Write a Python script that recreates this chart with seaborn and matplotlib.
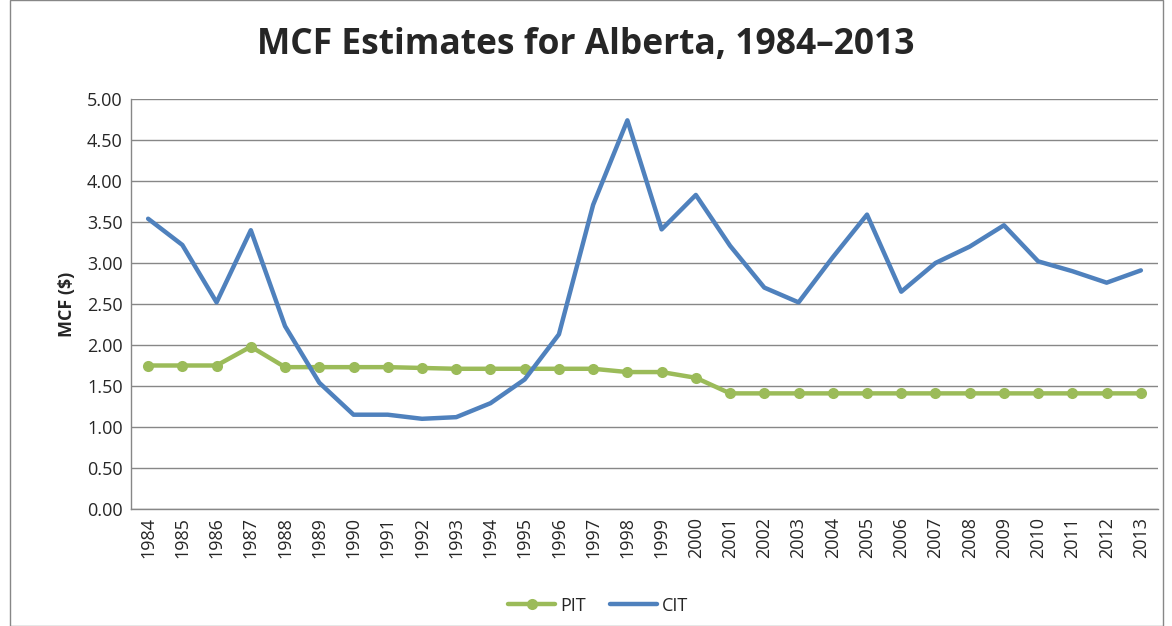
import pandas as pd
import seaborn as sns
import matplotlib.pyplot as plt
from matplotlib.patches import Rectangle

years = list(range(1984, 2014))
pit = [1.75, 1.75, 1.75, 1.98, 1.73, 1.73, 1.73, 1.73, 1.72, 1.71,
       1.71, 1.71, 1.71, 1.71, 1.67, 1.67, 1.60, 1.41, 1.41, 1.41,
       1.41, 1.41, 1.41, 1.41, 1.41, 1.41, 1.41, 1.41, 1.41, 1.41]
cit = [3.54, 3.22, 2.52, 3.40, 2.23, 1.54, 1.15, 1.15, 1.10, 1.12,
       1.29, 1.58, 2.13, 3.71, 4.74, 3.41, 3.83, 3.21, 2.70, 2.52,
       3.07, 3.59, 2.65, 3.00, 3.20, 3.46, 3.02, 2.90, 2.76, 2.91]

df = pd.DataFrame({"year": years, "PIT": pit, "CIT": cit})

sns.set_style("white")
plt.rcParams["font.family"] = ["Open Sans", "DejaVu Sans"]

fig = plt.figure(figsize=(11.72, 6.26), dpi=100)
ax = fig.add_axes([131 / 1172, 1 - 509 / 626, (1158 - 131) / 1172, (509 - 99) / 626])

sns.lineplot(data=df, x="year", y="PIT", ax=ax, color="#9BBB59", lw=3.2,
             marker="o", markersize=8, markeredgewidth=0, label="PIT")
sns.lineplot(data=df, x="year", y="CIT", ax=ax, color="#4F81BD", lw=3.2,
             label="CIT")

ax.set_xlim(years[0] - 0.5, years[-1] + 0.5)
ax.set_ylim(0, 5)
ax.set_yticks([i * 0.5 for i in range(11)])
ax.set_yticklabels([f"{i * 0.5:.2f}" for i in range(11)], fontsize=13)
ax.set_xticks(years)
ax.set_xticklabels([str(y) for y in years], rotation=90, fontsize=13)
ax.set_xticks([y - 0.5 for y in years] + [years[-1] + 0.5], minor=True)
ax.tick_params(axis="x", which="major", length=0, pad=6)
ax.tick_params(axis="x", which="minor", length=7, color="#878787", width=1)
ax.tick_params(axis="y", length=0, pad=6)

ax.grid(axis="y", color="#878787", lw=1)
ax.set_axisbelow(True)
for s in ["top", "right"]:
    ax.spines[s].set_visible(False)
for s in ["left", "bottom"]:
    ax.spines[s].set_color("#878787")
    ax.spines[s].set_linewidth(1)

ax.set_xlabel("")
ax.set_ylabel("MCF ($)", fontsize=13, fontweight="bold", labelpad=8)

fig.text(0.5, 1 - 45 / 626, "MCF Estimates for Alberta, 1984\u20132013",
         fontsize=25.5, fontweight="bold", ha="center", va="center")

ax.legend(loc="center", bbox_to_anchor=(0.455, -0.236), ncol=2,
          frameon=False, fontsize=13, handlelength=2.6, handletextpad=0.3,
          columnspacing=1.3)

fig.patches.append(Rectangle((10 / 1172, 0), 1153 / 1172, 1, transform=fig.transFigure,
                             fill=False, edgecolor="#878787", lw=1))

fig.savefig("out.png", dpi=100)
